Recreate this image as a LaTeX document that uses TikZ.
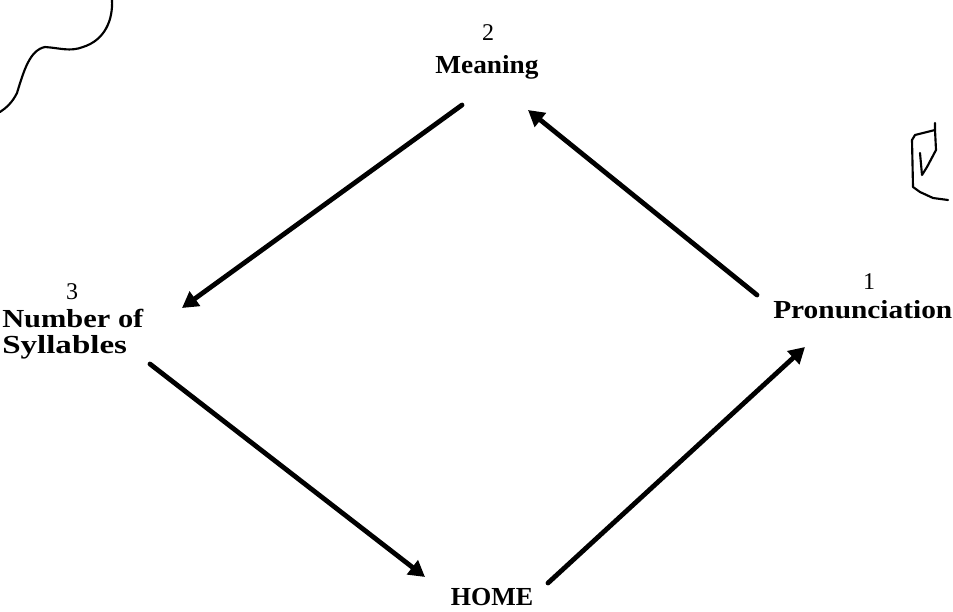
\documentclass[tikz,border=0pt]{standalone}
\usepackage{fontspec}
\setmainfont{Liberation Serif}
\usetikzlibrary{arrows.meta}
\begin{document}
\begin{tikzpicture}[x=0.75pt,y=-0.75pt,
  lab/.style={inner sep=0pt, font=\fontsize{19.5}{20}\selectfont\bfseries},
  digit/.style={inner sep=0pt, font=\fontsize{18}{19}\selectfont},
  conn/.style={line width=3.6pt, line cap=round, -{Triangle[length=12pt,width=13pt]}},
  scrib/.style={line width=1.6pt, line cap=round, line join=round}]
\useasboundingbox (0,0) rectangle (953,611);
% labels
\node[digit] (n2) at (488,33) {2};
\node[lab,anchor=base] (meaning) at (487,73) {\scalebox{1.05}[1]{Meaning}};
\node[digit] (n3) at (72,292) {3};
\node[lab,anchor=base west] (number) at (2,327) {\scalebox{1.17}[1]{Number of}};
\node[lab,anchor=base west] (syll) at (2,353) {\scalebox{1.27}[1]{Syllables}};
\node[digit] (n1) at (869,282) {1};
\node[lab,anchor=base west] (pron) at (773,318) {\scalebox{1.13}[1]{Pronunciation}};
\node[lab,anchor=base] (home) at (492,605) {HOME};
% connector end points
\coordinate (mS1) at (462,105);
\coordinate (nT) at (182,308);
\coordinate (sS) at (150,364);
\coordinate (hT) at (425,577);
\coordinate (hS) at (548,583);
\coordinate (pT) at (805,347);
\coordinate (pS) at (757,295);
\coordinate (mT) at (528,110);
% connectors
\draw[conn] (mS1) -- (nT);
\draw[conn] (sS) -- (hT);
\draw[conn] (hS) -- (pT);
\draw[conn] (pS) -- (mT);
% pen marks in the margins
\draw[scrib] (112,0) .. controls (113,20) and (105,40) .. (83,47)
  .. controls (70,52) and (60,48) .. (45,47)
  .. controls (30,50) and (24,70) .. (17,93)
  .. controls (12,103) and (6,108) .. (0,112);
\draw[scrib] (935,123) -- (935,130) -- (915,135) -- (912,140) -- (913,187)
  -- (920,192) -- (933,198) -- (948,200);
\draw[scrib] (935,130) -- (936,150) -- (927,167) -- (922,175) -- (920,153);
\end{tikzpicture}
\end{document}
